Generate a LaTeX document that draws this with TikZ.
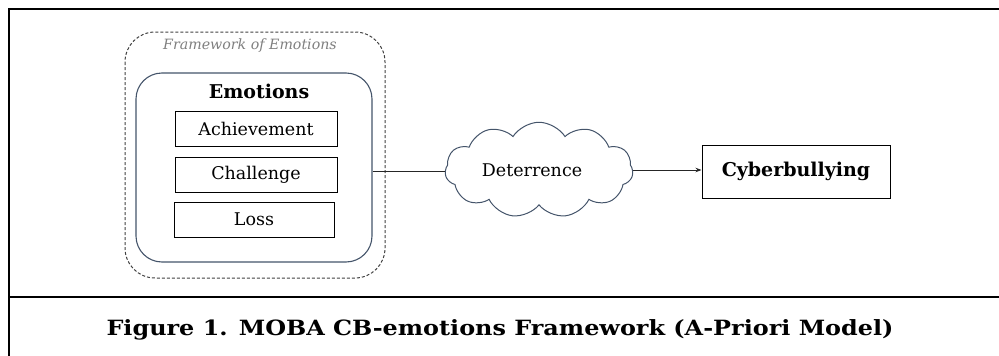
\documentclass[tikz,border=0pt]{standalone}
\usepackage{fontspec}
\setmainfont{DejaVu Serif}
\usetikzlibrary{shapes.symbols,arrows.meta}
\definecolor{slate}{HTML}{44546A}
\definecolor{dashgray}{HTML}{404040}
\definecolor{labgray}{HTML}{7F7F7F}
\tikzset{
  emobox/.style={draw=black, line width=0.9pt, minimum width=162pt, minimum height=35pt, inner sep=0pt, font=\fontsize{17.5}{20}\selectfont},
  frameline/.style={line width=2.2pt, black},
}
\begin{document}
\begin{tikzpicture}[x=1pt,y=-1pt]
\useasboundingbox (0,0) rectangle (999,356);
% outer frame
\draw[frameline] (9,356) -- (9,9) -- (999,9);
\draw[frameline] (9,297) -- (999,297);
% dashed framework box
\draw[dashgray, dash pattern=on 3pt off 2pt, line width=1pt, rounded corners=30pt] (125,32) rectangle (385,278);
\node[labgray, font=\itshape\fontsize{14.2}{16}\selectfont] (fw) at (250,46) {Framework of Emotions};
% inner emotions box
\node[draw=slate, line width=1.1pt, rounded corners=26pt, minimum width=236pt, minimum height=189pt, inner sep=0pt] (emo) at (254,167.5) {};
\node[font=\bfseries\fontsize{19}{22}\selectfont] (emot) at (259,91) {Emotions};
\node[emobox] (ach) at (256,128.5) {Achievement};
\node[emobox] (cha) at (256,175) {Challenge};
\node[emobox, minimum width=160pt] (los) at (254,219.5) {Loss};
% cloud
\node[cloud, draw=slate, line width=1pt, cloud puffs=11, cloud puff arc=115, aspect=2.2, minimum width=188pt, minimum height=86pt, inner sep=0pt, font=\fontsize{17.5}{20}\selectfont] (det) at (539,170) {Deterrence\hspace*{14pt}};
% cyberbullying box
\node[draw=black, line width=1pt, minimum width=188pt, minimum height=53pt, inner sep=0pt, font=\bfseries\fontsize{19}{22}\selectfont] (cyb) at (796,171.5) {Cyberbullying};
% connectors
\draw[black!85, line width=0.9pt] (emo.east |- 0,171) -- (det.west |- 0,171);
\draw[black!85, line width=0.9pt, -{Stealth[length=6pt,width=4.5pt]}] (det.east |- 0,170) -- (cyb.west |- 0,170);
% caption
\node[font=\bfseries\fontsize{21}{24}\selectfont] (cap) at (500,330) {\scalebox{1.138}[1]{Figure 1. MOBA CB-emotions Framework (A-Priori Model)}};
\end{tikzpicture}
\end{document}
